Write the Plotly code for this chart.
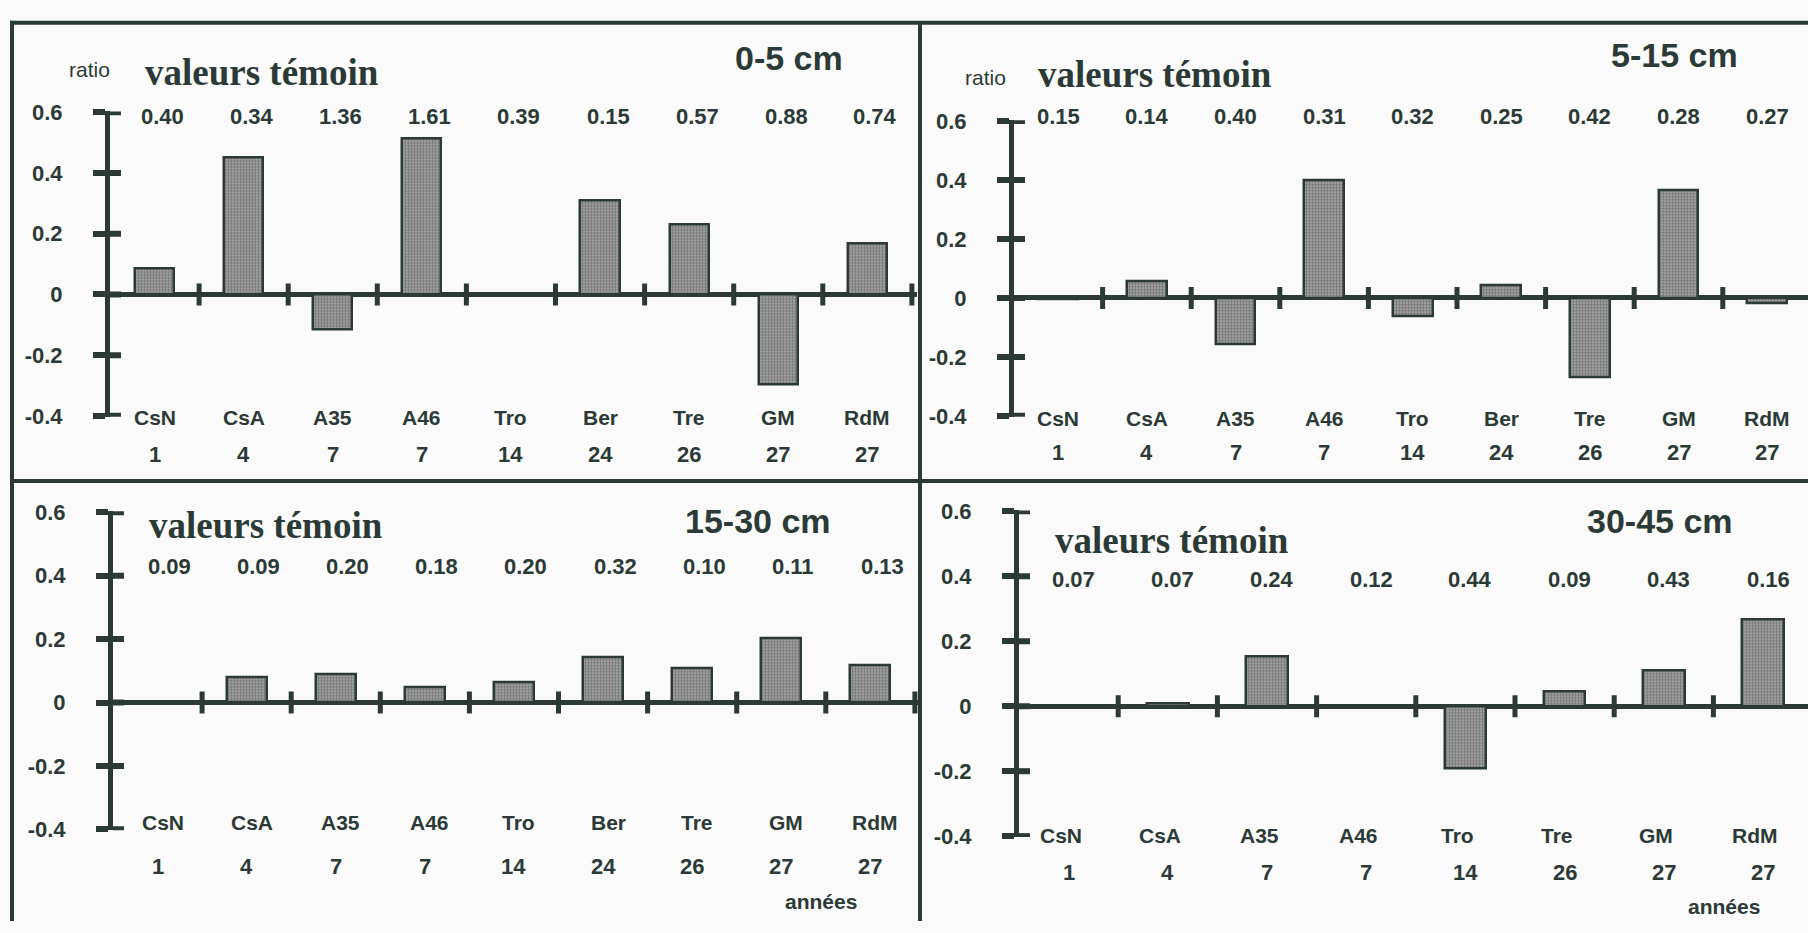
import plotly.graph_objects as go

W, H = 1808, 933

# ---------------- data ----------------
categories_a = ["CsN", "CsA", "A35", "A46", "Tro", "Ber", "Tre", "GM", "RdM"]
years_a = [1, 4, 7, 7, 14, 24, 26, 27, 27]
categories_b = ["CsN", "CsA", "A35", "A46", "Tro", "Tre", "GM", "RdM"]
years_b = [1, 4, 7, 7, 14, 26, 27, 27]

ratio_0_5 = [0.085, 0.45, -0.115, 0.515, 0.004, 0.31, 0.23, -0.297, 0.168]
temoin_0_5 = ["0.40", "0.34", "1.36", "1.61", "0.39", "0.15", "0.57", "0.88", "0.74"]

ratio_5_15 = [-0.004, 0.058, -0.158, 0.40, -0.063, 0.044, -0.27, 0.365, -0.018]
temoin_5_15 = ["0.15", "0.14", "0.40", "0.31", "0.32", "0.25", "0.42", "0.28", "0.27"]

ratio_15_30 = [0.0, 0.079, 0.09, 0.048, 0.064, 0.141, 0.108, 0.203, 0.117]
temoin_15_30 = ["0.09", "0.09", "0.20", "0.18", "0.20", "0.32", "0.10", "0.11", "0.13"]

ratio_30_45 = [0.003, 0.01, 0.154, 0.0, -0.19, 0.047, 0.11, 0.266]
temoin_30_45 = ["0.07", "0.07", "0.24", "0.12", "0.44", "0.09", "0.43", "0.16"]

y_ticks = [-0.4, -0.2, 0, 0.2, 0.4, 0.6]
y_tick_text = ["-0.4", "-0.2", "0", "0.2", "0.4", "0.6"]

# ---------------- layout / style ----------------
DARK = "#2c3a37"
BG = "#f9faf9"
SANS = "Liberation Sans, Arial, sans-serif"
SERIF = "Liberation Serif, Times New Roman, serif"

panels = [
    dict(cats=categories_a, yrs=years_a, vals=ratio_0_5, tem=temoin_0_5, title="0-5 cm",
         x0=110, sp=89.1, xend=8.56, ytop=103, ybot=416,
         val_y=108, cat_y=417, yr_y=455, val_dx=8, cat_dx=0,
         vt=(143, 63), ttl=(789, 48), ratio=(89, 60), annees=None, bw=0.44),
    dict(cats=categories_a, yrs=years_a, vals=ratio_5_15, tem=temoin_5_15, title="5-15 cm",
         x0=1014, sp=88.6, xend=None, ytop=112, ybot=416,
         val_y=108, cat_y=418, yr_y=453, val_dx=0, cat_dx=0,
         vt=(1036, 65), ttl=(1674, 45), ratio=(985, 68), annees=None, bw=0.45),
    dict(cats=categories_a, yrs=years_a, vals=ratio_15_30, tem=temoin_15_30, title="15-30 cm",
         x0=113, sp=89.1, xend=8.56, ytop=513, ybot=840,
         val_y=570, cat_y=832, yr_y=877, val_dx=12, cat_dx=5,
         vt=(147, 527), ttl=(758, 523), ratio=None, annees=(821, 913), bw=0.45),
    dict(cats=categories_b, yrs=years_b, vals=ratio_30_45, tem=temoin_30_45, title="30-45 cm",
         x0=1019, sp=99.2, xend=None, ytop=512, ybot=847,
         val_y=583, cat_y=845, yr_y=883, val_dx=5, cat_dx=-8,
         vt=(1053, 543), ttl=(1660, 523), ratio=None, annees=(1724, 918), bw=0.42),
]


def px(x):
    return x / W


def py(y):
    return 1 - y / H


fig = go.Figure()
annotations = []
shapes = []

for k, p in enumerate(panels, start=1):
    xa = "x" if k == 1 else f"x{k}"
    ya = "y" if k == 1 else f"y{k}"
    xend = p["xend"] if p["xend"] is not None else -0.5 + (W - p["x0"]) / p["sp"]
    xr = min(W, p["x0"] + (xend + 0.5) * p["sp"])
    n = len(p["cats"])
    idx = list(range(n))

    fig.add_trace(go.Bar(
        x=idx, y=p["vals"], width=p["bw"], xaxis=xa, yaxis=ya,
        marker=dict(color="#8e8e8e",
                    line=dict(color=DARK, width=2.5),
                    pattern=dict(shape=".", fgcolor="#3a3a3a", bgcolor="#ababab",
                                 size=3, solidity=0.5)),
        showlegend=False, hoverinfo="skip",
    ))

    xkey = "xaxis" if k == 1 else f"xaxis{k}"
    ykey = "yaxis" if k == 1 else f"yaxis{k}"
    fig.update_layout(**{
        xkey: dict(domain=[px(p["x0"]), px(xr)], range=[-0.5, xend], anchor=ya,
                   showline=False, showticklabels=False, ticks="", showgrid=False,
                   zeroline=False, fixedrange=True),
        ykey: dict(domain=[py(p["ybot"]), py(p["ytop"])], range=[-0.403, 0.603], anchor=xa,
                   showline=True, linewidth=5, linecolor=DARK,
                   tickvals=y_ticks, ticktext=y_tick_text,
                   ticks="outside", ticklen=12, tickwidth=6, tickcolor=DARK,
                   ticklabelstandoff=26,
                   tickfont=dict(family=SANS, size=22, color=DARK, weight="bold"),
                   showgrid=False, zeroline=True, zerolinewidth=5, zerolinecolor=DARK,
                   fixedrange=True),
    })

    # inner halves of the y ticks (cross-shaped ticks)
    for v in y_ticks:
        shapes.append(dict(type="line", xref=xa, yref=ya, xsizemode="pixel", xanchor=-0.5,
                           x0=0, x1=11, y0=v, y1=v, line=dict(color=DARK, width=6)))
    # category separator ticks on the zero line
    for i in range(n):
        shapes.append(dict(type="line", xref=xa, yref=ya, ysizemode="pixel", yanchor=0,
                           x0=i + 0.5, x1=i + 0.5, y0=-11, y1=11,
                           line=dict(color=DARK, width=5)))

    # control values, category names, years
    for i in range(n):
        annotations.append(dict(x=i, xref=xa, y=py(p["val_y"]), yref="paper", text=p["tem"][i],
                                showarrow=False, xshift=p["val_dx"], xanchor="center", yanchor="middle",
                                font=dict(family=SANS, size=22, color=DARK, weight="bold")))
        annotations.append(dict(x=i, xref=xa, y=py(p["cat_y"]), yref="paper", text=p["cats"][i],
                                showarrow=False, xshift=p["cat_dx"], xanchor="center", yanchor="middle",
                                font=dict(family=SANS, size=21, color=DARK, weight="bold")))
        annotations.append(dict(x=i, xref=xa, y=py(p["yr_y"]), yref="paper", text=str(p["yrs"][i]),
                                showarrow=False, xanchor="center", yanchor="middle",
                                font=dict(family=SANS, size=22, color=DARK, weight="bold")))

    annotations.append(dict(x=px(p["vt"][0]), y=py(p["vt"][1]), xref="paper", yref="paper",
                            text="valeurs témoin", showarrow=False, xanchor="left", yanchor="middle",
                            font=dict(family=SERIF, size=37, color=DARK, weight="bold")))
    annotations.append(dict(x=px(p["ttl"][0]), y=py(p["ttl"][1]), xref="paper", yref="paper",
                            text=p["title"], showarrow=False, xanchor="center", yanchor="middle",
                            font=dict(family=SANS, size=34, color=DARK, weight="bold")))
    if p["ratio"]:
        annotations.append(dict(x=px(p["ratio"][0]), y=py(p["ratio"][1]), xref="paper", yref="paper",
                                text="ratio", showarrow=False, xanchor="center", yanchor="middle",
                                font=dict(family=SANS, size=21, color=DARK)))
    if p["annees"]:
        annotations.append(dict(x=px(p["annees"][0]), y=py(p["annees"][1]), xref="paper", yref="paper",
                                text="années", showarrow=False, xanchor="center", yanchor="middle",
                                font=dict(family=SANS, size=21, color=DARK, weight="bold")))

# frame lines of the figure
frame = [
    (10, 12, W, 12),      # top border
    (12, 10, 12, H),      # left border
    (920, 12, 920, H),    # vertical divider
    (12, 482, W, 482),    # horizontal divider
]
for (a, b, c, d) in frame:
    shapes.append(dict(type="line", xref="paper", yref="paper",
                       x0=px(a), y0=py(b), x1=px(c), y1=py(d),
                       line=dict(color=DARK, width=4)))

fig.update_layout(
    width=W, height=H, autosize=False,
    margin=dict(l=0, r=0, t=0, b=0),
    paper_bgcolor=BG, plot_bgcolor=BG,
    bargap=0, annotations=annotations, shapes=shapes,
    showlegend=False,
)

fig.write_html("out.html", config={"displayModeBar": False},
               post_script="document.body.style.margin='0';")
